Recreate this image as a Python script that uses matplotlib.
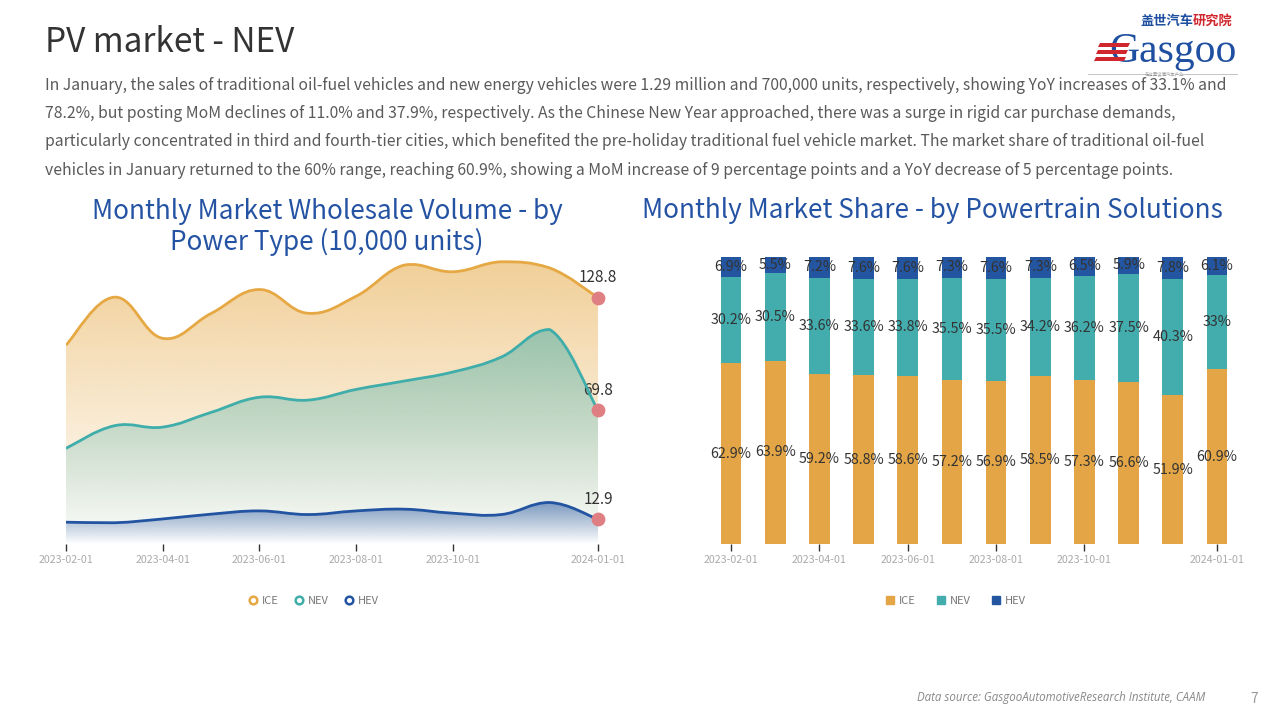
import numpy as np
import matplotlib
matplotlib.use("Agg")
import matplotlib.pyplot as plt
from matplotlib.path import Path
from matplotlib.patches import PathPatch, Polygon
from matplotlib.lines import Line2D
from matplotlib.colors import to_rgb

plt.rcParams['font.family'] = ['Noto Sans CJK SC', 'DejaVu Sans']

# --- data ---
months = ['2023-02-01', '2023-03-01', '2023-04-01', '2023-05-01', '2023-06-01', '2023-07-01',
          '2023-08-01', '2023-09-01', '2023-10-01', '2023-11-01', '2023-12-01', '2024-01-01']
shown_ticks = [0, 2, 4, 6, 8, 11]

# wholesale volume, 10,000 units
ice_vol = [104.0, 129.0, 107.5, 120.5, 133.0, 120.6, 129.5, 145.8, 142.3, 147.5, 144.3, 128.8]
nev_vol = [50.0, 61.8, 61.1, 68.8, 76.7, 75.2, 80.8, 85.2, 89.9, 97.7, 112.1, 69.8]
hev_vol = [11.4, 11.1, 13.1, 15.6, 17.3, 15.4, 17.3, 18.2, 16.1, 15.4, 21.7, 12.9]

# market share, %
ice_share = [62.9, 63.9, 59.2, 58.8, 58.6, 57.2, 56.9, 58.5, 57.3, 56.6, 51.9, 60.9]
nev_share = [30.2, 30.5, 33.6, 33.6, 33.8, 35.5, 35.5, 34.2, 36.2, 37.5, 40.3, 33]
hev_share = [6.9, 5.5, 7.2, 7.6, 7.6, 7.3, 7.6, 7.3, 6.5, 5.9, 7.8, 6.1]

series_names = ['ICE', 'NEV', 'HEV']
c_ice = '#e6a843'
c_nev = '#3fadaa'
c_hev = '#2354a1'
bar_cols = ['#e3a545', '#43adae', '#2355a1']

body = ("In January, the sales of traditional oil-fuel vehicles and new energy vehicles were 1.29 million and 700,000 units, respectively, showing YoY increases of 33.1% and\n"
        "78.2%, but posting MoM declines of 11.0% and 37.9%, respectively. As the Chinese New Year approached, there was a surge in rigid car purchase demands,\n"
        "particularly concentrated in third and fourth-tier cities, which benefited the pre-holiday traditional fuel vehicle market. The market share of traditional oil-fuel\n"
        "vehicles in January returned to the 60% range, reaching 60.9%, showing a MoM increase of 9 percentage points and a YoY decrease of 5 percentage points.")


def smooth_verts(x, y, s=0.2):
    n = len(x)
    verts = [(x[0], y[0])]
    codes = [Path.MOVETO]
    lo, hi = min(y), max(y)
    for i in range(n - 1):
        p = max(i - 1, 0)
        q = min(i + 2, n - 1)
        c1 = (x[i] + s * (x[i + 1] - x[p]), np.clip(y[i] + s * (y[i + 1] - y[p]), lo, hi))
        c2 = (x[i + 1] - s * (x[q] - x[i]), np.clip(y[i + 1] - s * (y[q] - y[i]), lo, hi))
        verts += [c1, c2, (x[i + 1], y[i + 1])]
        codes += [Path.CURVE4] * 3
    return verts, codes


fig = plt.figure(figsize=(12.8, 7.2), dpi=100)
W, H = 1280, 720


def px(x0, y0, x1, y1):
    return [x0 / W, 1 - y1 / H, (x1 - x0) / W, (y1 - y0) / H]


# header text
fig.text(45 / W, 1 - 43 / H, 'PV market - NEV', fontsize=24, color='#333333', va='center', ha='left',
         fontweight='light')
fig.text(45 / W, 1 - 77 / H, body, fontsize=11.33, color='#5a5a5a', va='top', ha='left', linespacing=1.86,
         fontweight='light')

# logo
fig.text(1140 / W, 1 - 21 / H, '盖世汽车', fontsize=9.5, color='#1f4fa0', va='center', fontweight='bold')
fig.text(1193 / W, 1 - 21 / H, '研究院', fontsize=9.5, color='#d0262d', va='center', fontweight='bold')
fig.text(1237 / W, 1 - 52 / H, 'Gasgoo', fontsize=30, color='#1f4fa0', va='center', ha='right',
         family='Liberation Serif')
for k in range(3):
    yy = 1 - (43 + k * 7) / H
    fig.patches.append(Polygon([[(1100 - k * 2) / W, yy], [(1130 - k * 2) / W, yy],
                                [(1128 - k * 2) / W, yy - 4 / H], [(1098 - k * 2) / W, yy - 4 / H]],
                               closed=True, transform=fig.transFigure, facecolor='#d0262d',
                               edgecolor='none', zorder=5))
fig.lines.append(Line2D([1088 / W, 1148 / W], [1 - 74 / H] * 2, color='#bbbbbb', lw=0.6,
                        transform=fig.transFigure))
fig.lines.append(Line2D([1182 / W, 1237 / W], [1 - 74 / H] * 2, color='#bbbbbb', lw=0.6,
                        transform=fig.transFigure))
fig.text(1165 / W, 1 - 74 / H, '在这里读懂汽车产业', fontsize=3.2, color='#999999', va='center', ha='center')

# chart titles
fig.text(327 / W, 1 - 227 / H, 'Monthly Market Wholesale Volume - by\nPower Type (10,000 units)',
         fontsize=18.8, color='#2553a3', ha='center', va='center', linespacing=1.12)
fig.text(932 / W, 1 - 210 / H, 'Monthly Market Share - by Powertrain Solutions',
         fontsize=18.8, color='#2553a3', ha='center', va='center')

# --- left: smoothed area chart ---
ax1 = fig.add_axes(px(66, 257, 598, 544))
xs = np.arange(len(months))
for vals, col, a_top, z in [(ice_vol, c_ice, 0.55, 1), (nev_vol, c_nev, 0.5, 2), (hev_vol, c_hev, 0.55, 3)]:
    v, c = smooth_verts(list(xs), vals)
    area = Path(v + [(xs[-1], 0), (xs[0], 0), (xs[0], vals[0])],
                c + [Path.LINETO, Path.LINETO, Path.LINETO])
    clip = PathPatch(area, facecolor='none', edgecolor='none')
    ax1.add_patch(clip)
    grad = np.zeros((256, 1, 4))
    grad[:, 0, :3] = to_rgb(col)
    grad[:, 0, 3] = np.linspace(0, a_top, 256)
    im = ax1.imshow(grad, extent=[0, 11, 0, max(vals)], origin='lower', aspect='auto',
                    interpolation='bilinear', zorder=z)
    im.set_clip_path(clip)
    ax1.add_patch(PathPatch(Path(v, c), facecolor='none', edgecolor=col, lw=2, zorder=5))
    ax1.scatter([xs[-1]], [vals[-1]], s=80, color='#e07f83', zorder=6, clip_on=False)
    ax1.annotate(f'{vals[-1]}', (xs[-1], vals[-1]), xytext=(0, 8), textcoords='offset points',
                 ha='center', va='bottom', fontsize=11, color='#333333')
ax1.set_xlim(0, 11)
ax1.set_ylim(0, 150)
ax1.set_yticks([])
ax1.set_xticks(shown_ticks)
ax1.set_xticklabels([months[i] for i in shown_ticks])
ax1.tick_params(axis='x', length=5, width=1, color='#333333', labelcolor='#aaaaaa', labelsize=7.7, pad=3)
for s in ax1.spines.values():
    s.set_visible(False)

handles1 = [Line2D([], [], ls='none', marker='o', markersize=5.5, markerfacecolor='white',
                   markeredgecolor=c, markeredgewidth=1.8, label=n)
            for c, n in zip([c_ice, c_nev, c_hev], series_names)]
fig.legend(handles=handles1, loc='center', bbox_to_anchor=(313 / W, 1 - 601 / H), ncol=3,
           frameon=False, fontsize=8, labelcolor='#777777', handletextpad=0.3, columnspacing=1.3,
           handlelength=1)

# --- right: stacked share bars ---
ax2 = fig.add_axes(px(709, 257, 1239, 544))
bottom = np.zeros(len(months))
for vals, col in zip([ice_share, nev_share, hev_share], bar_cols):
    vals = np.array(vals, dtype=float)
    ax2.bar(xs, vals, bottom=bottom, width=0.47, color=col, zorder=2)
    for xi, b, v in zip(xs, bottom, vals):
        ax2.text(xi, b + v / 2, f'{v:g}%', ha='center', va='center', fontsize=10.3, color='#333333',
                 zorder=3)
    bottom += vals
ax2.set_xlim(-0.5, 11.5)
ax2.set_ylim(0, 100)
ax2.set_yticks([])
ax2.set_xticks(shown_ticks)
ax2.set_xticklabels([months[i] for i in shown_ticks])
ax2.tick_params(axis='x', length=5, width=1, color='#333333', labelcolor='#aaaaaa', labelsize=7.7, pad=3)
for s in ax2.spines.values():
    s.set_visible(False)

handles2 = [Line2D([], [], ls='none', marker='s', markersize=5.5, markerfacecolor=c,
                   markeredgecolor=c, label=n)
            for c, n in zip(bar_cols, series_names)]
fig.legend(handles=handles2, loc='center', bbox_to_anchor=(955 / W, 1 - 601 / H), ncol=3,
           frameon=False, fontsize=8, labelcolor='#777777', handletextpad=0.3, columnspacing=1.8,
           handlelength=1)

# footer
fig.text(1205 / W, 1 - 697 / H, 'Data source: GasgooAutomotiveResearch Institute, CAAM',
         fontsize=8.3, color='#888888', style='italic', ha='right', va='center', family='Open Sans')
fig.text(1254 / W, 1 - 699 / H, '7', fontsize=10, color='#999999', ha='center', va='center')

fig.savefig('out.png', dpi=100)
